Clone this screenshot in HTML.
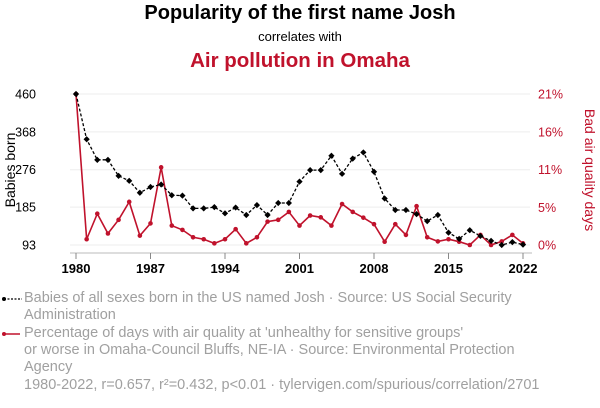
<!DOCTYPE html>
<html><head><meta charset="utf-8"><style>
body{margin:0;background:#fff;font-family:"Liberation Sans",Arial,sans-serif;}
#wrap{position:relative;width:600px;height:408px;overflow:hidden;}
.t{position:absolute;left:0;width:600px;text-align:center;}
.leg{position:absolute;left:24px;width:500px;color:#a0a0a0;font-size:14.5px;line-height:17px;}
</style></head><body>
<div id="wrap">
<div class="t" style="top:2px;font-size:20px;font-weight:bold;color:#000;">Popularity of the first name Josh</div>
<div class="t" style="top:29px;font-size:13px;color:#000;">correlates with</div>
<div class="t" style="top:49px;font-size:20.5px;font-weight:bold;color:#c0122c;">Air pollution in Omaha</div>
<svg id="svg" width="600" height="290" style="position:absolute;left:0;top:0"></svg>
<div class="leg" style="top:290px;">Babies of all sexes born in the US named Josh · Source: US Social Security Administration</div>
<div class="leg" style="top:325px;">Percentage of days with air quality at 'unhealthy for sensitive groups'<br>or worse in Omaha-Council Bluffs, NE-IA · Source: Environmental Protection Agency</div>
<div class="leg" style="top:377px;width:580px;">1980-2022, r=0.657, r²=0.432, p&lt;0.01 · tylervigen.com/spurious/correlation/2701</div>
<svg width="24" height="100" style="position:absolute;left:0;top:290px">
<line x1="4" y1="9" x2="22" y2="9" stroke="#000" stroke-dasharray="2,1.5" stroke-width="1.2"/><circle cx="4" cy="9" r="2" fill="#000"/>
<line x1="4" y1="44" x2="20" y2="44" stroke="#c0122c" stroke-width="1.5"/><circle cx="4" cy="44" r="2" fill="#c0122c"/>
</svg>
</div>
<script>
const years=[];for(let y=1980;y<=2022;y++)years.push(y);
const babies=[460,350,300,300,261,249,220,234,240,214,213,182,182,185,170,184,166,190,166,195,195,247,275,275,310,266,303,318,271,206,178,178,168,151,166,123,108,129,115,103,93,100,94];
const air=[21,0.8,4.35,1.6,3.5,6,1.3,3,10.8,2.7,2.1,1.07,0.8,0.23,0.8,2.2,0.23,1.07,3.25,3.5,4.6,2.7,4.1,3.85,2.7,5.7,4.6,3.8,2.9,0.46,2.9,1.4,5.4,1.07,0.5,0.8,0.46,0,1.4,0,0.5,1.4,0.23];
const leftTicks=[93,185,276,368,460];
const rightTicks=[0,5.25,10.5,15.75,21];
const rightLabels=['0%','5%','11%','16%','21%'];
const xTicks=[1980,1987,1994,2001,2008,2015,2022];
const NS="http://www.w3.org/2000/svg";
const svg=document.getElementById('svg');
const X=y=>76+(y-1980)*(447/42);
const YL=v=>245-(v-93)/(460-93)*151;
const YR=v=>245-v/21*151;
function mk(tag,attrs){const e=document.createElementNS(NS,tag);for(const k in attrs)e.setAttribute(k,attrs[k]);svg.appendChild(e);return e;}
leftTicks.forEach(v=>{
 const g=mk('line',{x1:70,x2:530,y1:YL(v),y2:YL(v),stroke:'#eee','stroke-width':1});
 
 
 const t=mk('text',{x:36,y:YL(v)+4.5,'text-anchor':'end','font-size':12.5,fill:'#000'});t.textContent=v;
 
 
});
rightTicks.forEach((v,i)=>{
 const t=mk('text',{x:538,y:YR(v)+4.5,'font-size':12.5,fill:'#c0122c'});t.textContent=rightLabels[i];
 
 
});
const ax=mk('line',{x1:70,x2:532,y1:253,y2:253,stroke:'#bbb','stroke-width':1});


xTicks.forEach(v=>{
 mk('line',{x1:X(v),x2:X(v),y1:253,y2:259,stroke:'#888','stroke-width':1});
 const t=mk('text',{x:X(v),y:273,'text-anchor':'middle','font-size':13,'font-weight':'bold',fill:'#000'});t.textContent=v;
 
 
});
const yl=mk('text',{transform:'translate(15,170) rotate(-90)','text-anchor':'middle','font-size':14,fill:'#000'});yl.textContent='Babies born';


const yr=mk('text',{transform:'translate(585,170) rotate(90)','text-anchor':'middle','font-size':14,fill:'#c0122c'});yr.textContent='Bad air quality days';


const pr=mk('polyline',{points:years.map((y,i)=>X(y)+','+YR(air[i])).join(' '),fill:'none',stroke:'#c0122c','stroke-width':1.6});


const pb=mk('polyline',{points:years.map((y,i)=>X(y)+','+YL(babies[i])).join(' '),fill:'none',stroke:'#000','stroke-width':1.3,'stroke-dasharray':'3,2'});


years.forEach((y,i)=>{
 const c=mk('circle',{cx:X(y),cy:YR(air[i]),r:2.3,fill:'#c0122c'});
 
 
 const d=mk('rect',{x:X(y)-2.2,y:YL(babies[i])-2.2,width:4.4,height:4.4,fill:'#000',transform:`rotate(45 ${X(y)} ${YL(babies[i])})`});
 
 
});
</script>
</body></html>
